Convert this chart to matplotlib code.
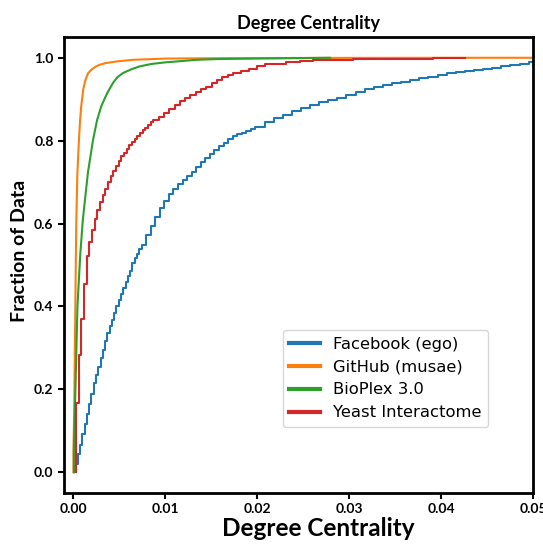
import matplotlib
matplotlib.use("Agg")
import matplotlib.pyplot as plt

# ---------------- data ----------------
series_names = ["Facebook (ego)", "GitHub (musae)", "BioPlex 3.0", "Yeast Interactome"]
series_colors = ["#1f77b4", "#ff7f0e", "#2ca02c", "#d62728"]

# Facebook (ego): degree k -> fraction of nodes with degree <= k ; n-1 = 4038
fb_nodes_minus1 = 4038
fb_degree = [1, 2, 3, 4, 5, 6, 7, 8, 9, 10, 11, 12, 13, 14, 15, 16, 17, 18, 19, 20,
             21, 22, 23, 24, 25, 26, 27, 28, 29, 30, 32, 34, 36, 38, 40, 42, 44, 46, 48, 50,
             52, 54, 56, 58, 60, 62, 64, 66, 68, 70, 72, 74, 76, 78, 80, 84, 88, 92, 96, 100,
             104, 108, 112, 116, 120, 124, 128, 132, 136, 140, 144, 148, 152, 156, 160, 164,
             168, 172, 176, 180, 184, 188, 192, 196, 200, 204]
fb_cdf = [0.019, 0.043, 0.067, 0.092, 0.116, 0.140, 0.164, 0.188, 0.215, 0.235, 0.255, 0.275,
          0.296, 0.316, 0.335, 0.352, 0.368, 0.384, 0.400, 0.415, 0.430, 0.445, 0.460, 0.473,
          0.486, 0.505, 0.516, 0.527, 0.538, 0.549, 0.572, 0.595, 0.617, 0.638, 0.655, 0.671,
          0.684, 0.695, 0.705, 0.714, 0.725, 0.737, 0.748, 0.758, 0.767, 0.777, 0.787, 0.795,
          0.803, 0.810, 0.815, 0.819, 0.823, 0.827, 0.832, 0.846, 0.855, 0.862, 0.871, 0.879,
          0.886, 0.893, 0.899, 0.904, 0.910, 0.918, 0.925, 0.930, 0.935, 0.939, 0.942, 0.946,
          0.950, 0.954, 0.958, 0.962, 0.965, 0.968, 0.971, 0.973, 0.976, 0.979, 0.983, 0.986,
          0.989, 0.991]

# GitHub (musae): degree centrality -> cumulative fraction (fine steps, look smooth)
gh_centrality = [0.0000265, 0.00005, 0.0001, 0.00015, 0.0002, 0.00025, 0.00033, 0.00045,
                 0.00062, 0.00075, 0.00087, 0.0011, 0.00134, 0.0016, 0.00196, 0.0024, 0.00286,
                 0.0035, 0.0047, 0.0065, 0.0101, 0.015, 0.02, 0.03, 0.04, 0.06]
gh_cdf = [0.04, 0.08, 0.14, 0.24, 0.34, 0.44, 0.60, 0.72, 0.80, 0.85, 0.883, 0.925, 0.947,
          0.962, 0.971, 0.978, 0.983, 0.987, 0.991, 0.995, 0.998, 0.9988, 0.9992, 0.9996,
          0.9998, 1.0]

# BioPlex 3.0: degree centrality -> cumulative fraction (fine steps, look smooth)
bp_centrality = [0.000073, 0.00013, 0.00024, 0.00035, 0.00046, 0.00058, 0.00078, 0.00105,
                 0.0016, 0.00214, 0.0026, 0.00305, 0.0037, 0.00432, 0.0048, 0.0054, 0.0063,
                 0.0072, 0.0085, 0.0101, 0.0118, 0.0134, 0.016, 0.02, 0.024, 0.0279]
bp_cdf = [0.06, 0.11, 0.20, 0.30, 0.40, 0.45, 0.53, 0.61, 0.723, 0.80, 0.85, 0.883, 0.915,
          0.939, 0.953, 0.963, 0.972, 0.979, 0.985, 0.989, 0.992, 0.995, 0.997, 0.998, 0.999,
          1.0]

# Yeast Interactome: degree k -> cumulative fraction ; n-1 ~ 3450
yi_nodes_minus1 = 3450
yi_degree = [1, 2, 3, 4, 5, 6, 7, 8, 9, 10, 11, 12, 13, 14, 15, 16, 17, 18, 19, 20, 21, 22,
             23, 24, 25, 26, 27, 28, 29, 30, 32, 34, 36, 38, 40, 42, 44, 46, 48, 50, 52, 54,
             56, 58, 60, 63, 66, 69, 72, 76, 80, 85, 90, 97, 105, 115, 125, 135, 147]
yi_cdf = [0.168, 0.282, 0.369, 0.453, 0.521, 0.556, 0.585, 0.610, 0.632, 0.652, 0.668, 0.684,
          0.700, 0.714, 0.727, 0.740, 0.752, 0.762, 0.771, 0.780, 0.789, 0.797, 0.805, 0.812,
          0.819, 0.825, 0.831, 0.838, 0.844, 0.849, 0.858, 0.867, 0.876, 0.885, 0.896, 0.904,
          0.911, 0.918, 0.924, 0.929, 0.940, 0.947, 0.953, 0.958, 0.962, 0.967, 0.974, 0.981,
          0.985, 0.986, 0.989, 0.992, 0.994, 0.995, 0.996, 0.997, 0.998, 0.999, 1.0]

x_ticks = [0.00, 0.01, 0.02, 0.03, 0.04, 0.05]
y_ticks = [0.0, 0.2, 0.4, 0.6, 0.8, 1.0]

# ---------------- figure ----------------
FONT = "Lato"
fig = plt.figure(figsize=(5.43, 5.45), dpi=100)
ax = fig.add_axes([0.1179, 0.0954, 0.8637, 0.8367])

fb_x = [k / fb_nodes_minus1 for k in fb_degree]
yi_x = [k / yi_nodes_minus1 for k in yi_degree]

curves = [(fb_x, fb_cdf, "steps-post"), (gh_centrality, gh_cdf, "default"),
          (bp_centrality, bp_cdf, "default"), (yi_x, yi_cdf, "steps-post")]
for (xs, ys, ds), name, col in zip(curves, series_names, series_colors):
    ax.plot([xs[0]] + list(xs), [0.0] + list(ys), drawstyle=ds,
            color=col, lw=1.5, label=name)

ax.set_xlim(-0.001, 0.05)
ax.set_ylim(-0.05, 1.05)
ax.set_xticks(x_ticks)
ax.set_yticks(y_ticks)
ax.set_xticklabels([f"{v:.2f}" for v in x_ticks], fontfamily=FONT, fontweight="bold", fontsize=10)
ax.set_yticklabels([f"{v:.1f}" for v in y_ticks], fontfamily=FONT, fontweight="bold", fontsize=10)
ax.tick_params(width=1.5, length=4)
for s in ax.spines.values():
    s.set_linewidth(2)

ax.set_title("Degree Centrality", fontfamily=FONT, fontweight="bold", fontsize=13, pad=6, x=0.522)
ax.set_xlabel("Degree Centrality", fontfamily=FONT, fontweight="bold", fontsize=17.5)
ax.xaxis.set_label_coords(0.5416, -0.052)
ax.set_ylabel("Fraction of Data", fontfamily=FONT, fontweight="bold", fontsize=14)
ax.yaxis.set_label_coords(-0.077, 0.532)

leg = ax.legend(loc="lower left", bbox_to_anchor=(0.466, 0.145), borderaxespad=0,
                fontsize=11.8, handlelength=1.9, labelspacing=0.48)
for h in leg.get_lines():
    h.set_linewidth(3)

fig.savefig("out.png", dpi=100)
